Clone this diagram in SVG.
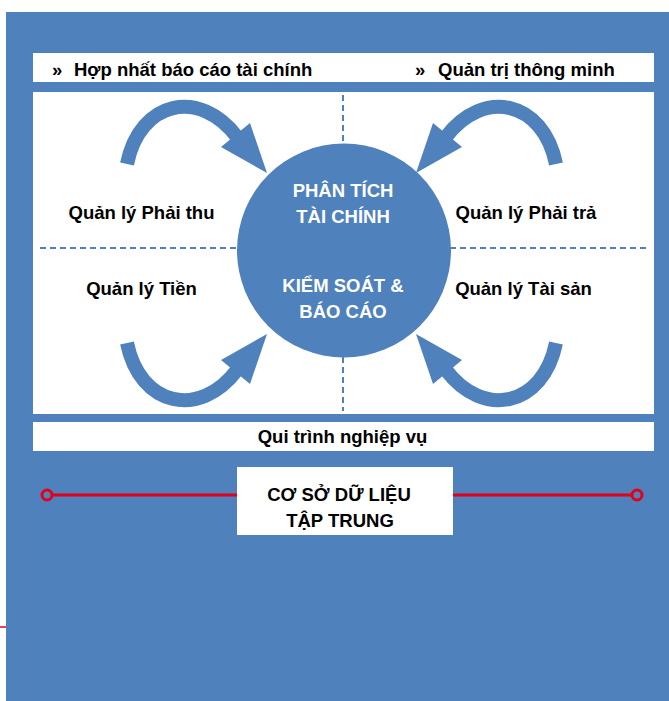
<svg xmlns="http://www.w3.org/2000/svg" xmlns:xlink="http://www.w3.org/1999/xlink" width="669" height="701" viewBox="0 0 669 701">
<style>
.lbl{font-family:"Liberation Sans",Arial,sans-serif;font-weight:bold;font-size:18.5px;fill:#000;}
.wl{font-family:"Liberation Sans",Arial,sans-serif;font-weight:bold;font-size:18.5px;fill:#fff;text-anchor:middle;}
.c{text-anchor:middle;}
.dash{stroke:#4f81bd;stroke-width:2;stroke-dasharray:6,4;fill:none;}
.red{stroke:#e2001a;stroke-width:3;fill:none;}
</style>
<defs>
<g id="arrow">
<path d="M127,164 C140,100 200,88 237,137" fill="none" stroke="#4f81bd" stroke-width="14"/>
<polygon points="221,147 250,123 267,173" fill="#4f81bd"/>
</g>
</defs>
<rect x="6" y="12" width="663" height="689" fill="#4f81bd"/>
<line x1="0" y1="627" x2="6" y2="627" stroke="#e2001a" stroke-width="1.5"/>
<g id="topbar">
<rect x="33" y="53" width="621" height="29" fill="#fff"/>
<text class="lbl" x="52" y="76">»</text>
<text class="lbl" x="74" y="76">Hợp nhất báo cáo tài chính</text>
<text class="lbl" x="415" y="76">»</text>
<text class="lbl" x="438" y="76">Quản trị thông minh</text>
</g>
<g id="panel">
<rect x="33" y="92" width="621" height="322" fill="#fff"/>
</g>
<g id="dividers">
<line class="dash" x1="343" y1="95" x2="343" y2="145"/>
<line class="dash" x1="343" y1="357" x2="343" y2="411"/>
<line class="dash" x1="40" y1="248" x2="238" y2="248"/>
<line class="dash" x1="450" y1="248" x2="648" y2="248"/>
</g>
<g id="center">
<circle cx="344" cy="250.5" r="107" fill="#4f81bd"/>
<text class="wl" x="343" y="197">PHÂN TÍCH</text>
<text class="wl" x="343" y="223">TÀI CHÍNH</text>
<text class="wl" x="343" y="292">KIỂM SOÁT &amp;</text>
<text class="wl" x="343" y="318">BÁO CÁO</text>
</g>
<g id="connectors">
<use xlink:href="#arrow"/>
<use xlink:href="#arrow" transform="matrix(-1 0 0 1 683 0)"/>
<use xlink:href="#arrow" transform="matrix(1 0 0 -1 0 507)"/>
<use xlink:href="#arrow" transform="matrix(-1 0 0 -1 683 507)"/>
</g>
<g id="phaithu"><text class="lbl c" x="141.5" y="219">Quản lý Phải thu</text></g>
<g id="phaitra"><text class="lbl c" x="526" y="219">Quản lý Phải trả</text></g>
<g id="tien"><text class="lbl c" x="141.5" y="295">Quản lý Tiền</text></g>
<g id="taisan"><text class="lbl c" x="523.5" y="295">Quản lý Tài sản</text></g>
<g id="quitrinh">
<rect x="33" y="422" width="621" height="29" fill="#fff"/>
<text class="lbl c" x="342.5" y="443">Qui trình nghiệp vụ</text>
</g>
<g id="dbline">
<line class="red" x1="52" y1="495" x2="237" y2="495"/>
<line class="red" x1="453" y1="495" x2="632" y2="495"/>
<circle class="red" cx="47" cy="495" r="5"/>
<circle class="red" cx="637" cy="495" r="5"/>
</g>
<g id="database">
<rect x="237" y="467" width="216" height="68" fill="#fff"/>
<text class="lbl c" x="339" y="501">CƠ SỞ DỮ LIỆU</text>
<text class="lbl c" x="340" y="527">TẬP TRUNG</text>
</g>
</svg>
